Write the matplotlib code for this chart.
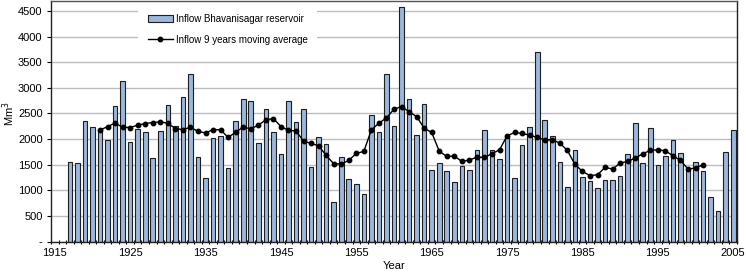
import matplotlib
matplotlib.use("Agg")
import matplotlib.pyplot as plt
import numpy as np

plt.rcParams['font.family'] = ['Liberation Sans', 'DejaVu Sans']

bar_years = list(range(1917, 2006))
inflow = [1545, 1530, 2356, 2235, 2170, 1979, 2645, 3125, 1945, 2194,
          2129, 1629, 2148, 2674, 2259, 2823, 3271, 1648, 1240, 2025,
          2068, 1434, 2360, 2784, 2739, 1921, 2583, 2129, 1713, 2739,
          2330, 2590, 1454, 2031, 1908, 772, 1648, 1227, 1129, 935,
          2473, 2129, 3271, 2265, 4588, 2778, 2083, 2680, 1389, 1538,
          1382, 1155, 1480, 1395, 1778, 2168, 1791, 1616, 2070, 1233,
          1882, 2239, 3706, 2382, 2057, 1545, 1071, 1785, 1259, 1181,
          1045, 1194, 1207, 1285, 1700, 2310, 1532, 2226, 1499, 1668,
          1979, 1726, 1395, 1545, 1376, 863, 597, 1739, 2174]

ma_years = list(range(1921, 2002))
moving_avg = [2174, 2245, 2310, 2233, 2226, 2271, 2304, 2323, 2336, 2310,
              2205, 2185, 2230, 2150, 2120, 2185, 2181, 2031, 2135, 2233,
              2200, 2271, 2375, 2401, 2245, 2168, 2161, 1960, 1914, 1869,
              1681, 1519, 1512, 1584, 1720, 1759, 2181, 2310, 2414, 2583,
              2635, 2531, 2440, 2213, 2129, 1765, 1661, 1668, 1564, 1590,
              1648, 1642, 1713, 1791, 2064, 2129, 2109, 2077, 2031, 1986,
              1986, 1921, 1778, 1506, 1369, 1285, 1304, 1447, 1415, 1532,
              1564, 1629, 1713, 1778, 1791, 1772, 1674, 1584, 1415, 1434,
              1499]

x_tick_years = [1915, 1925, 1935, 1945, 1955, 1965, 1975, 1985, 1995, 2005]
y_tick_values = [0, 500, 1000, 1500, 2000, 2500, 3000, 3500, 4000, 4500]
y_tick_labels = ['-', '500', '1000', '1500', '2000', '2500', '3000', '3500', '4000', '4500']

fig = plt.figure(figsize=(7.46, 2.73), dpi=100)
ax = fig.add_axes([51/746, 31.5/273, 686/746, 240.7/273])

bars = ax.bar(bar_years, inflow, width=0.62, color='#9BB7DD', edgecolor='#1f1f1f',
              linewidth=0.8, zorder=2, label='Inflow Bhavanisagar reservoir')
line, = ax.plot(ma_years, moving_avg, color='black', linewidth=1.0, marker='o',
                markersize=3.2, zorder=3, label='Inflow 9 years moving average')

ax.set_xlim(1914.5, 2005.5)
ax.set_ylim(0, 4700)
ax.set_yticks(y_tick_values)
ax.set_yticklabels(y_tick_labels)
ax.set_xticks(x_tick_years)
ax.set_xticklabels([str(y) for y in x_tick_years])
ax.set_xticks(np.arange(1914.5, 2006, 1.0), minor=True)
ax.tick_params(axis='x', which='major', length=0, labelsize=8, pad=5)
ax.tick_params(axis='x', which='minor', length=3, direction='inout', width=0.8)
ax.tick_params(axis='y', which='major', length=3, direction='out', labelsize=8, pad=3, width=0.8)

ax.yaxis.grid(True, color='#BDBDBD', linewidth=1.0, zorder=0)
ax.set_axisbelow(True)
for s in ax.spines.values():
    s.set_color('#222222')
    s.set_linewidth(1.0)
ax.spines['top'].set_color('#555555')

ax.set_ylabel('Mm$^3$', fontsize=8)
ax.yaxis.set_label_coords(-0.05, 0.53)
ax.set_xlabel('Year', fontsize=8, labelpad=2)

leg = ax.legend(handles=[bars, line], loc='upper left', bbox_to_anchor=(0.127, 0.985), fontsize=7,
                frameon=True, facecolor='white', edgecolor='white', framealpha=1,
                handlelength=2.6, handleheight=0.8, borderpad=1.0, labelspacing=1.1,
                handletextpad=0.25, borderaxespad=0)
leg.get_frame().set_linewidth(0)

fig.savefig('out.png', dpi=100)
